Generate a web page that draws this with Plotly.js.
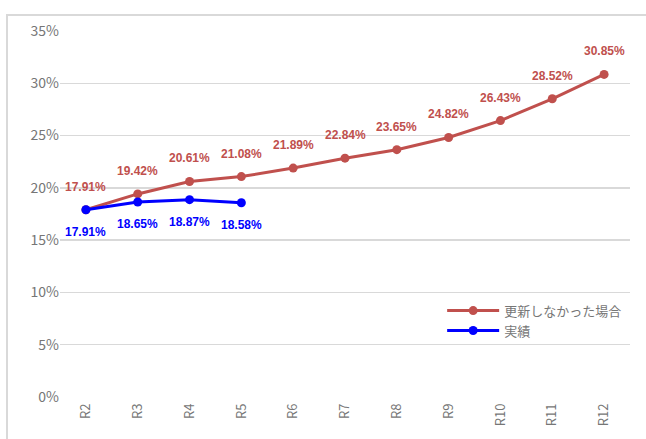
<!DOCTYPE html>
<html><head><meta charset="utf-8">
<script src="https://cdn.plot.ly/plotly-3.0.1.min.js"></script>
<style>
html,body{margin:0;padding:0;background:#fff;overflow:hidden;}
#frame{position:absolute;left:6px;top:14px;width:700px;height:500px;border:2px solid #d9d9d9;box-sizing:border-box;}
#chart{position:absolute;left:0;top:0;width:646px;height:439px;}
</style></head>
<body>
<div id="frame"></div>
<div id="chart"></div>
<script>
const categories = ['R2','R3','R4','R5','R6','R7','R8','R9','R10','R11','R12'];
const noUpdate = [17.91,19.42,20.61,21.08,21.89,22.84,23.65,24.82,26.43,28.52,30.85];
const actualCats = ['R2','R3','R4','R5'];
const actual = [17.91,18.65,18.87,18.58];
const names = ['更新しなかった場合','実績'];
const yTicks = [0,5,10,15,20,25,30,35];

const red = '#c0504d', blue = '#0000ff';
const traces = [
  {x:categories, y:noUpdate, name:names[0], mode:'lines+markers', line:{color:red,width:3}, marker:{color:red,size:9}},
  {x:actualCats, y:actual, name:names[1], mode:'lines+markers', line:{color:blue,width:3}, marker:{color:blue,size:9}}
];
const fmt = v => v.toFixed(2) + '%';
const annotations = [];
categories.forEach((c,i)=>annotations.push({x:c,y:noUpdate[i],text:fmt(noUpdate[i]),showarrow:false,yshift:23,font:{color:red,size:12,family:'Liberation Sans, Arial, sans-serif',weight:'bold'}}));
actualCats.forEach((c,i)=>annotations.push({x:c,y:actual[i],text:fmt(actual[i]),showarrow:false,yshift:-22,font:{color:blue,size:12,family:'Liberation Sans, Arial, sans-serif',weight:'bold'}}));

const layout = {
  width:646, height:439,
  margin:{l:60,r:16,t:31,b:42},
  paper_bgcolor:'rgba(0,0,0,0)', plot_bgcolor:'rgba(0,0,0,0)',
  font:{family:'Noto Sans CJK JP, sans-serif', color:'#767676'},
  xaxis:{type:'category', tickangle:-90, showgrid:false, showline:false, zeroline:false, ticks:'', tickfont:{size:13,color:'#767676'}, range:[-0.5,10.5], ticklabelstandoff:3},
  yaxis:{range:[0,35], tickvals:yTicks, ticktext:yTicks.map(v=>v+'%'), showgrid:true, gridcolor:'#d9d9d9', gridwidth:1.5, zeroline:false, showline:false, ticks:'', tickfont:{size:14,color:'#767676'}, ticklen:0, automargin:false},
  showlegend:true,
  legend:{x:0.995, xanchor:'right', y:0.277, yanchor:'top', font:{size:13,color:'#767676'}, itemwidth:52, tracegroupgap:0, bgcolor:'rgba(0,0,0,0)'},
  annotations:annotations
};
Plotly.newPlot('chart', traces, layout, {displayModeBar:false, staticPlot:true});
</script>
</body></html>
